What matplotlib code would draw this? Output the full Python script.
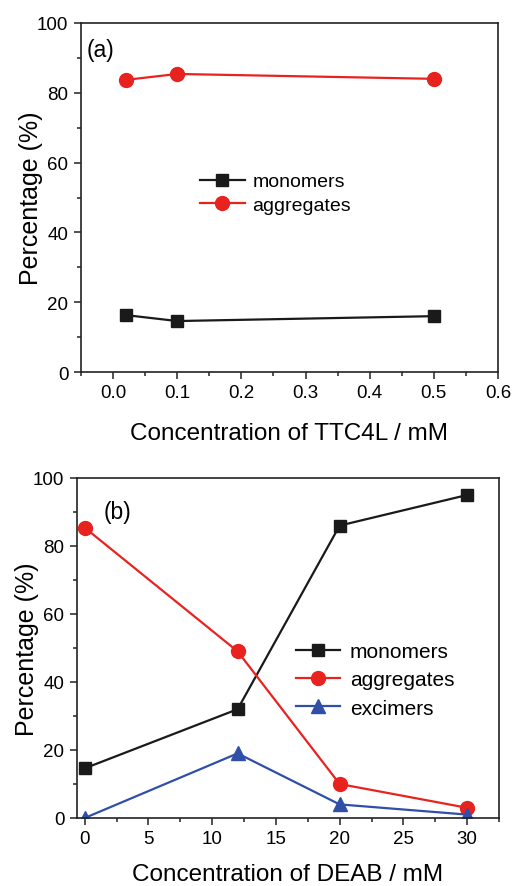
import matplotlib
matplotlib.use("Agg")
import matplotlib.pyplot as plt
from matplotlib.ticker import MultipleLocator

plt.rcParams['font.family'] = ['Liberation Sans', 'DejaVu Sans']

# Panel (a)
xa = [0.02, 0.1, 0.5]
mono_a = [16.3, 14.6, 16.0]
aggr_a = [83.7, 85.4, 84.0]

# Panel (b)
xb = [0, 12, 20, 30]
mono_b = [14.6, 32.0, 86.0, 95.0]
aggr_b = [85.4, 49.0, 10.0, 3.0]
exci_b = [0.0, 19.0, 4.0, 1.0]

BLACK = '#1a1a1a'
RED = '#e8231f'
BLUE = '#2f4fa8'

fig = plt.figure(figsize=(5.12, 8.87), dpi=100)
W, H = 512, 887

def add_ax(l, t, r, b):
    return fig.add_axes([l / W, 1 - b / H, (r - l) / W, (b - t) / H])

ax1 = add_ax(81, 24, 498, 373)
ax2 = add_ax(77, 479, 499, 819)

LABEL_FS = 17.5

def style(ax):
    for s in ax.spines.values():
        s.set_linewidth(1.2)
        s.set_color('#222222')
    ax.tick_params(which='both', direction='out', top=False, right=False,
                   labelsize=13.5, width=1.1, color='#222222')
    ax.tick_params(which='major', length=5, pad=4)
    ax.tick_params(which='minor', length=3)
    ax.yaxis.set_major_locator(MultipleLocator(20))
    ax.yaxis.set_minor_locator(MultipleLocator(10))
    ax.set_ylim(0, 100)
    ax.set_ylabel('Percentage (%)', fontsize=LABEL_FS + 0.5, labelpad=-4)

ms = 9
ax1.plot(xa, mono_a, '-s', color=BLACK, ms=ms, lw=1.6, label='monomers')
ax1.plot(xa, aggr_a, '-o', color=RED, ms=ms + 1, lw=1.6, label='aggregates')
style(ax1)
ax1.set_xlim(-0.05, 0.6)
ax1.xaxis.set_major_locator(MultipleLocator(0.1))
ax1.xaxis.set_minor_locator(MultipleLocator(0.05))
ax1.xaxis.set_major_formatter(matplotlib.ticker.FormatStrFormatter('%.1f'))
ax1.set_xlabel('Concentration of TTC4L / mM', fontsize=LABEL_FS, labelpad=15)
ax1.text(0.013, 0.925, '(a)', transform=ax1.transAxes, fontsize=16.5, va='center')
ax1.legend(loc='upper left', bbox_to_anchor=(0.285, 0.571), frameon=False, fontsize=14,
           handlelength=2.3, labelspacing=0.3, handletextpad=0.4,
           borderpad=0, borderaxespad=0)

ax2.plot(xb, mono_b, '-s', color=BLACK, ms=ms, lw=1.6, label='monomers')
ax2.plot(xb, aggr_b, '-o', color=RED, ms=ms + 1, lw=1.6, label='aggregates')
ax2.plot(xb, exci_b, '-^', color=BLUE, ms=ms + 1, lw=1.6, label='excimers')
style(ax2)
ax2.set_xlim(-0.6, 32.5)
ax2.xaxis.set_major_locator(MultipleLocator(5))
ax2.xaxis.set_minor_locator(MultipleLocator(2.5))
ax2.set_xlabel('Concentration of DEAB / mM', fontsize=LABEL_FS, labelpad=11.5)
ax2.text(0.062, 0.9, '(b)', transform=ax2.transAxes, fontsize=16.5, va='center')
ax2.legend(loc='upper left', bbox_to_anchor=(0.519, 0.518), frameon=False, fontsize=15,
           handlelength=2.1, labelspacing=0.45, handletextpad=0.48,
           borderpad=0, borderaxespad=0)

fig.savefig('out.png', dpi=100)
